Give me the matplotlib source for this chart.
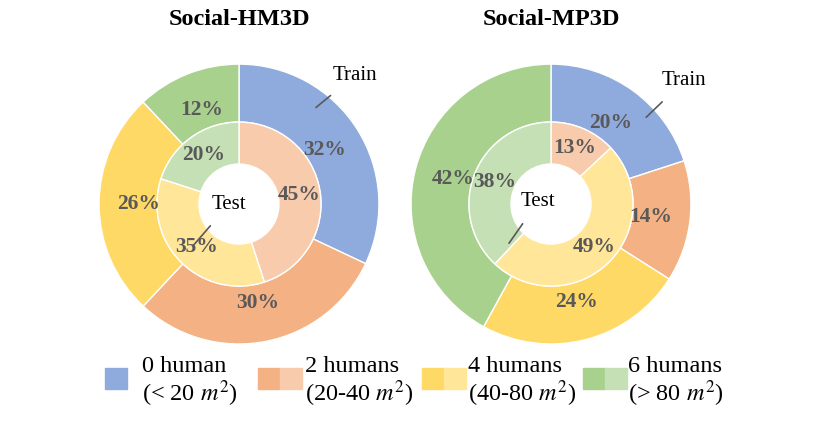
import matplotlib
matplotlib.use("Agg")
import matplotlib.pyplot as plt
from matplotlib.patches import Rectangle

plt.rcParams["font.family"] = "Liberation Serif"
plt.rcParams["mathtext.fontset"] = "stix"

titles = ["Social-HM3D", "Social-MP3D"]
outer_vals = [[32, 30, 26, 12], [20, 14, 24, 42]]
inner_vals = [[0, 45, 35, 20], [0, 13, 49, 38]]
dark = ["#8FAADC", "#F4B183", "#FFD966", "#A9D18E"]
light = ["#8FAADC", "#F8CBAD", "#FFE699", "#C5E0B4"]
leg_l1 = ["0 human", "2 humans", "4 humans", "6 humans"]
leg_l2 = ["(< 20 $m^2$)", "(20-40 $m^2$)", "(40-80 $m^2$)", "(> 80 $m^2$)"]

fig = plt.figure(figsize=(8.32, 4.26), dpi=100)
lbl = dict(fontsize=15.5, fontweight="bold", color="#595959", ha="center", va="center")
train_pos = [((0.83, 0.92), (0.55, 0.69)), ((0.95, 0.88), (0.68, 0.62))]
test_pos = [((-0.07, 0.0), (-0.33, -0.3)), ((-0.09, 0.02), (-0.3, -0.28))]
for k, x0 in enumerate([0.119, 0.494]):
    ax = fig.add_axes([x0, 0.1925, 0.3365, 0.657])
    ax.set_xlim(-1, 1); ax.set_ylim(-1, 1); ax.set_aspect("equal"); ax.axis("off")
    ax.pie(outer_vals[k], radius=1, colors=dark, startangle=90, counterclock=False,
           wedgeprops=dict(width=0.414, edgecolor="white", linewidth=1),
           autopct=lambda p: f"{p:.0f}%" if p > 0.5 else "", pctdistance=0.72, textprops=lbl)
    ax.pie(inner_vals[k], radius=0.586, colors=light, startangle=90, counterclock=False,
           wedgeprops=dict(width=0.3, edgecolor="white", linewidth=1),
           autopct=lambda p: f"{p:.0f}%" if p > 0.5 else "", pctdistance=0.74, textprops=lbl)
    ax.set_xlim(-1, 1); ax.set_ylim(-1, 1)
    ax.set_title(titles[k], fontsize=17.5, fontweight="bold", pad=28)
    for (t, (tp, lp)) in [("Train", train_pos[k]), ("Test", test_pos[k])]:
        ax.annotate(t, xy=lp, xytext=tp, fontsize=15, ha="center", va="center",
                    arrowprops=dict(arrowstyle="-", color="#595959", lw=1.2, shrinkA=9, shrinkB=0))

sq_x = [105, 258, 422, 583]
txt_x = [142, 305, 468, 628]
W, H = 832, 426
for i in range(4):
    cols = [dark[i]] if i == 0 else [dark[i], light[i]]
    for j, c in enumerate(cols):
        fig.patches.append(Rectangle(((sq_x[i] + 22 * j) / W, (H - 389) / H), 22 / W, 21 / H,
                                     transform=fig.transFigure, color=c))
    fig.text(txt_x[i] / W, (H - 366) / H, leg_l1[i], fontsize=17.5, va="center")
    fig.text(txt_x[i] / W, (H - 394) / H, leg_l2[i], fontsize=17.5, va="center")
fig.savefig("out.png", dpi=100)
